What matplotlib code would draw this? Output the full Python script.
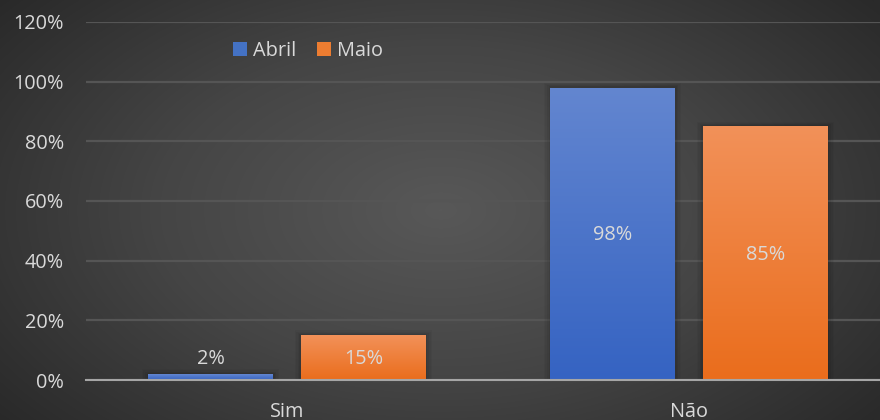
import numpy as np
import matplotlib.pyplot as plt
from matplotlib.colors import LinearSegmentedColormap
from matplotlib.ticker import PercentFormatter
from matplotlib.patches import Patch

# Values
categories = ['Sim', 'Não']
series = ['Abril', 'Maio']
abril = [0.02, 0.98]
maio = [0.15, 0.85]
labels_abril = ['2%', '98%']
labels_maio = ['15%', '85%']
yticks = [0, 0.2, 0.4, 0.6, 0.8, 1.0, 1.2]

plt.rcParams['font.family'] = ['Open Sans', 'DejaVu Sans']
text_color = '#d9d9d9'
fs = 14.3

fig = plt.figure(figsize=(8.8, 4.2), dpi=100)

# Radial gray background
bg = fig.add_axes([0, 0, 1, 1], zorder=-10)
yy, xx = np.mgrid[0:420, 0:880]
r = np.sqrt(((xx - 440) / 560.0) ** 2 + ((yy - 210) / 330.0) ** 2)
r = np.clip(r, 0, 1)
bg_cmap = LinearSegmentedColormap.from_list('bg', ['#585858', '#454545', '#2a2a2a'])
bg.imshow(r, cmap=bg_cmap, aspect='auto', extent=[0, 1, 0, 1], vmin=0, vmax=1)
bg.axis('off')

# Plot area (the original is cut off at the right edge)
ax = fig.add_axes([86 / 880, 40 / 420, 804 / 880, 358 / 420])
ax.patch.set_alpha(0)
x = np.arange(len(categories))
w = 0.31
off = 0.19

blue_cmap = LinearSegmentedColormap.from_list('b', ['#3563c2', '#6386d0'])
orange_cmap = LinearSegmentedColormap.from_list('o', ['#ea6d1c', '#f29159'])

bars_a = ax.bar(x - off, abril, w, color='none', zorder=3)
bars_m = ax.bar(x + off, maio, w, color='none', zorder=3)

grad = np.linspace(0, 1, 256).reshape(-1, 1)
for bars, cmap in [(bars_a, blue_cmap), (bars_m, orange_cmap)]:
    for b in bars:
        x0, y0 = b.get_x(), b.get_y()
        bw, bh = b.get_width(), b.get_height()
        # soft shadow
        for k, a in enumerate([0.06, 0.05, 0.04, 0.03]):
            dx = 0.004 * (k + 1)
            dy = 0.004 * (k + 1)
            ax.add_patch(plt.Rectangle((x0 - dx, y0), bw + 2 * dx, bh + dy,
                                       color='black', alpha=a, lw=0, zorder=2))
        im = ax.imshow(grad, cmap=cmap, origin='lower', aspect='auto',
                       extent=[x0, x0 + bw, y0, y0 + bh], zorder=3)
        im.set_clip_path(b)

# data labels (the small 2% label sits level with the 15% one)
for i in range(len(categories)):
    ya = abril[i] / 2 if abril[i] > 0.1 else maio[i] / 2
    ax.text(x[i] - off, ya - 0.005, labels_abril[i], ha='center', va='center',
            color=text_color, fontsize=fs, zorder=5)
    ax.text(x[i] + off, maio[i] / 2 - 0.005, labels_maio[i], ha='center', va='center',
            color=text_color, fontsize=fs, zorder=5)

ax.set_xlim(-0.5, 1.5)
ax.set_ylim(0, 1.2)
ax.set_yticks(yticks)
ax.yaxis.set_major_formatter(PercentFormatter(1.0, decimals=0))
ax.set_xticks(x, categories)
ax.grid(axis='y', color='#555555', lw=1.6, zorder=0)
ax.set_axisbelow(True)
for s in ['top', 'right', 'left']:
    ax.spines[s].set_visible(False)
ax.spines['bottom'].set_color('#a6a6a6')
ax.spines['bottom'].set_linewidth(1.5)
ax.spines['bottom'].set_zorder(4)
ax.tick_params(axis='both', length=0, colors=text_color, labelsize=fs)
ax.tick_params(axis='y', pad=16)
ax.tick_params(axis='x', pad=16)

# legend
handles = [Patch(facecolor='#4472c4'), Patch(facecolor='#ed7d31')]
leg = fig.legend(handles, series, loc='center', bbox_to_anchor=(308 / 880, 1 - 51 / 420),
                 ncol=2, frameon=False, fontsize=fs, labelcolor=text_color,
                 handlelength=0.75, handleheight=0.75, handletextpad=0.3, columnspacing=1.0)

fig.savefig('out.png', dpi=100)
